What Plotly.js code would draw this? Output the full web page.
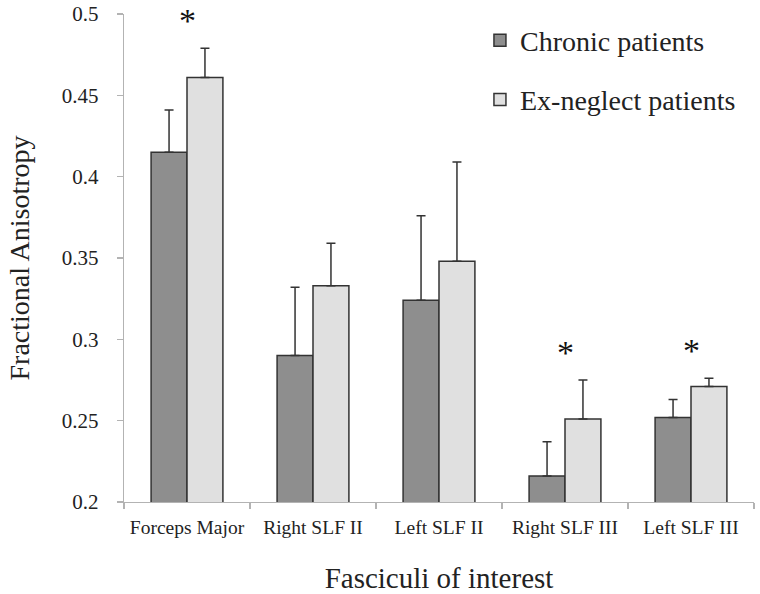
<!DOCTYPE html>
<html>
<head>
<meta charset="utf-8">
<script src="https://cdn.plot.ly/plotly-3.0.1.min.js"></script>
<style>html,body{margin:0;padding:0;background:#fff;}#chart{width:760px;height:594px;}</style>
</head>
<body>
<div id="chart"></div>
<script>
var categories = ["Forceps Major", "Right SLF II", "Left SLF II", "Right SLF III", "Left SLF III"];
var chronicMean = [0.415, 0.290, 0.324, 0.216, 0.252];
var chronicErr = [0.026, 0.042, 0.052, 0.021, 0.011];
var exNeglectMean = [0.461, 0.333, 0.348, 0.251, 0.271];
var exNeglectErr = [0.018, 0.026, 0.061, 0.024, 0.005];
var significant = ["Forceps Major", "Right SLF III", "Left SLF III"];
var yTickVals = [0.2, 0.25, 0.3, 0.35, 0.4, 0.45, 0.5];
var yTickText = ["0.2", "0.25", "0.3", "0.35", "0.4", "0.45", "0.5"];

var FONT = "'Liberation Serif', 'Times New Roman', Times, serif";
var AXIS = "#b3b3b3";
var INK = "#333333";

function zeros(n){ var a=[]; for(var i=0;i<n;i++) a.push(0); return a; }

var traces = [
  {
    type: "bar", name: "Chronic patients", x: categories, y: chronicMean,
    legendgroup: "a",
    marker: {color: "#8e8e8e", line: {color: INK, width: 1.5}},
    error_y: {type: "data", symmetric: false, array: chronicErr, arrayminus: zeros(chronicErr.length),
              color: INK, thickness: 1.5, width: 4.5}
  },
  {
    type: "bar", name: "Ex-neglect patients", x: categories, y: exNeglectMean,
    legendgroup: "b",
    marker: {color: "#e0e0e0", line: {color: INK, width: 1.5}},
    error_y: {type: "data", symmetric: false, array: exNeglectErr, arrayminus: zeros(exNeglectErr.length),
              color: INK, thickness: 1.5, width: 4.5}
  }
];

var annotations = significant.map(function(cat){
  var i = categories.indexOf(cat);
  var top = Math.max(chronicMean[i] + chronicErr[i], exNeglectMean[i] + exNeglectErr[i]);
  return {x: cat, y: top + 0.02, xref: "x", yref: "y", text: "*", showarrow: false,
          font: {family: FONT, size: 34, color: "#111"}, yanchor: "middle", yshift: -5};
});

var layout = {
  width: 760, height: 594,
  margin: {l: 124, r: 6, t: 14, b: 92},
  paper_bgcolor: "#fff", plot_bgcolor: "#fff",
  font: {family: FONT, color: "#222"},
  barmode: "group", bargap: 0.43, bargroupgap: 0,
  showlegend: true,
  legend: {x: 0.565, y: 0.997, xanchor: "left", yanchor: "top", bgcolor: "rgba(0,0,0,0)",
           font: {family: FONT, size: 28, color: "#222"}, traceorder: "grouped", tracegroupgap: 20},
  xaxis: {
    type: "category", showline: true, linecolor: AXIS, linewidth: 1.2,
    ticks: "outside", ticklen: 6, tickcolor: AXIS, tickwidth: 1.2, tickson: "boundaries",
    showgrid: false, zeroline: false, ticklabelstandoff: 7, tickangle: 0,
    tickfont: {family: FONT, size: 19.5, color: "#222"},
    title: {text: "Fasciculi of interest", font: {family: FONT, size: 29, color: "#222"}, standoff: 32},
    automargin: false
  },
  yaxis: {
    range: [0.2, 0.5], tickvals: yTickVals, ticktext: yTickText,
    showline: true, linecolor: AXIS, linewidth: 1.2,
    ticks: "outside", ticklen: 6, tickcolor: AXIS, tickwidth: 1.2,
    showgrid: false, zeroline: false, ticklabelstandoff: 14,
    tickfont: {family: FONT, size: 21, color: "#222"},
    title: {text: "Fractional Anisotropy", font: {family: FONT, size: 28, color: "#222"}, standoff: 24},
    automargin: false
  },
  annotations: annotations
};

Plotly.newPlot("chart", traces, layout, {displayModeBar: false, staticPlot: true});
</script>
</body>
</html>
